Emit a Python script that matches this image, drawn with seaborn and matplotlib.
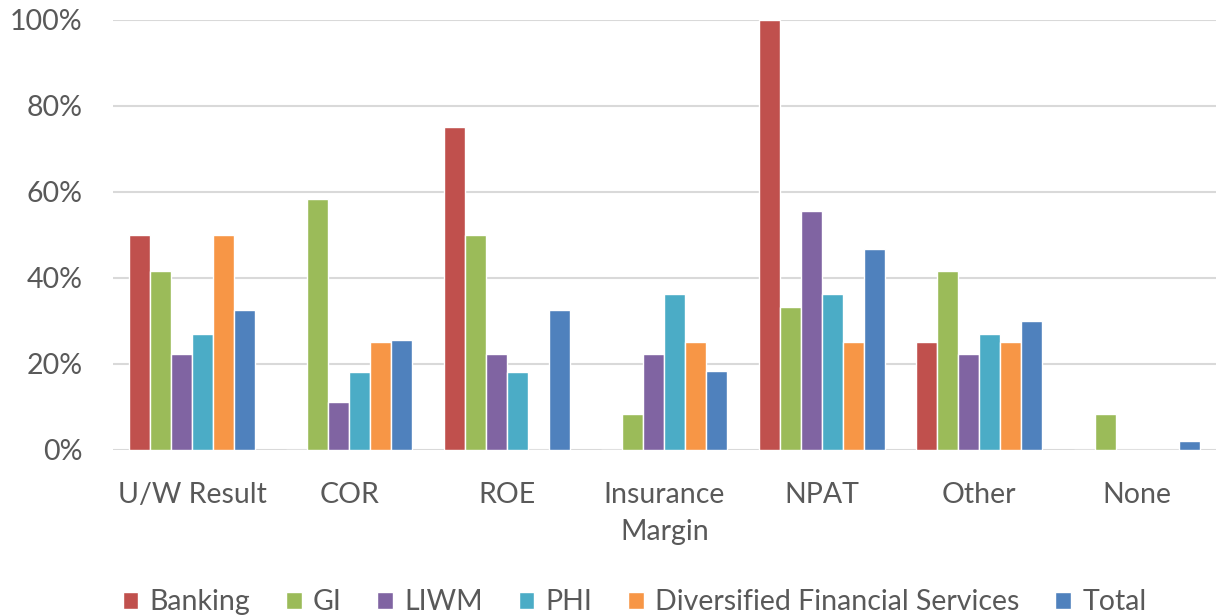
import matplotlib
matplotlib.use("Agg")
import matplotlib.pyplot as plt
import seaborn as sns
import pandas as pd
from matplotlib.ticker import PercentFormatter

categories = ["U/W Result", "COR", "ROE", "Insurance\nMargin", "NPAT", "Other", "None"]
series_names = ["Banking", "GI", "LIWM", "PHI", "Diversified Financial Services", "Total"]
banking = [50.0, 0.0, 75.0, 0.0, 100.0, 25.0, 0.0]
gi = [41.7, 58.3, 50.0, 8.3, 33.3, 41.7, 8.3]
liwm = [22.2, 11.1, 22.2, 22.2, 55.6, 22.2, 0.0]
phi = [27.0, 18.2, 18.2, 36.2, 36.2, 27.0, 0.0]
dfs = [50.0, 25.0, 0.0, 25.0, 25.0, 25.0, 0.0]
total = [32.5, 25.6, 32.5, 18.4, 46.6, 30.0, 2.2]
colors = ["#C0504D", "#9BBB59", "#8064A2", "#4BACC6", "#F79646", "#4F81BD"]
yticks = [0, 20, 40, 60, 80, 100]

rows = []
for name, vals in zip(series_names, [banking, gi, liwm, phi, dfs, total]):
    for c, v in zip(categories, vals):
        rows.append({"Category": c, "Series": name, "Value": v})
df = pd.DataFrame(rows)

sns.set_theme(style="white")
plt.rcParams["font.family"] = ["Lato", "DejaVu Sans"]

fig = plt.figure(figsize=(12.18, 6.16), dpi=100)
ax = fig.add_axes([0.093, 0.2695, 0.905, 0.6985])

sns.barplot(data=df, x="Category", y="Value", hue="Series", hue_order=series_names,
            order=categories, palette=colors, ax=ax, width=0.8,
            edgecolor="white", linewidth=1.0, saturation=1, errorbar=None)

ax.set_ylim(0, 100)
ax.set_xlim(-0.5, len(categories) - 0.5)
ax.set_yticks(yticks)
ax.yaxis.set_major_formatter(PercentFormatter(decimals=0))
ax.yaxis.grid(True, color="#d9d9d9", linewidth=1.5)
ax.set_axisbelow(True)
for s in ax.spines.values():
    s.set_visible(False)
ax.set_xlabel("")
ax.set_ylabel("")
ax.tick_params(axis="both", length=0, labelsize=20.5, colors="#595959")
ax.tick_params(axis="x", pad=23)
ax.tick_params(axis="y", pad=22)
for lab in ax.get_xticklabels():
    lab.set_linespacing(1.55)

handles, labels = ax.get_legend_handles_labels()
ax.legend_.remove()
leg = fig.legend(handles, labels, loc="center", bbox_to_anchor=(0.521, 0.022), ncol=6,
                 frameon=False, fontsize=20.5, handlelength=0.55, handleheight=0.55,
                 handletextpad=0.4, columnspacing=1.25, labelcolor="#595959")

fig.savefig("out.png", dpi=100)
